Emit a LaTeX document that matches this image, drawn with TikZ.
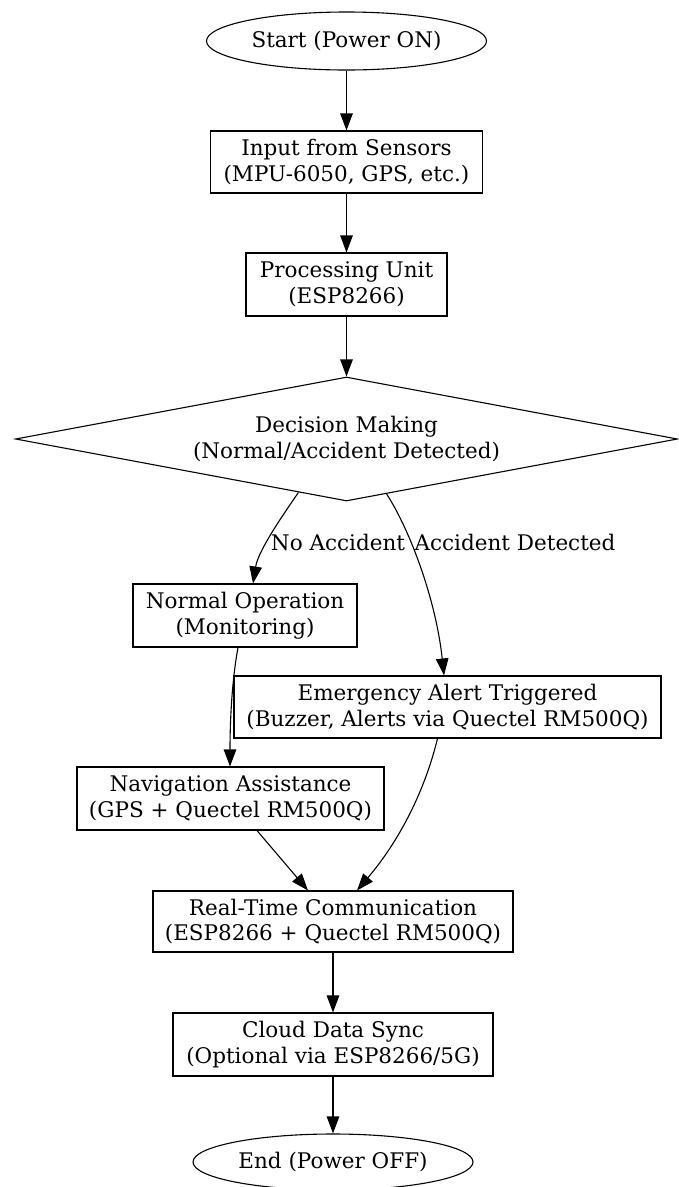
\documentclass[tikz,border=0pt]{standalone}
\usepackage{fontspec}
\setmainfont{DejaVu Serif}
\usetikzlibrary{shapes.geometric,arrows.meta,calc}
\tikzset{
  base/.style={draw=black, line width=1.1pt, inner sep=0pt, align=center, font=\fontsize{21.5}{25.5}\selectfont},
  box/.style={base, rectangle},
  oval/.style={base, ellipse},
  decision/.style={base, diamond, shape aspect=5.3},
  lbl/.style={inner sep=0pt, font=\fontsize{21.5}{25.5}\selectfont},
  arr/.style={draw=black, line width=1.1pt, -{Triangle[length=17pt,width=12.5pt]}}
}
\begin{document}
\begin{tikzpicture}[x=1pt,y=-1pt]
\useasboundingbox (0,0) rectangle (679,1187);
\node[oval, minimum width=280pt, minimum height=58pt] (start) at (346.5,41) {Start (Power ON)};
\node[box, minimum width=272pt, minimum height=62pt] (inp) at (346.5,162) {Input from Sensors\\(MPU-6050, GPS, etc.)};
\node[box, minimum width=201pt, minimum height=63pt] (proc) at (346.5,284.5) {Processing Unit\\(ESP8266)};
\node[decision, minimum width=662pt, minimum height=124pt] (dec) at (346.5,439) {Decision Making\\(Normal/Accident Detected)};
\node[box, minimum width=224pt, minimum height=63pt] (norm) at (245,615.5) {Normal Operation\\(Monitoring)};
\node[box, minimum width=427pt, minimum height=62pt] (emg) at (447.5,707) {Emergency Alert Triggered\\(Buzzer, Alerts via Quectel RM500Q)};
\node[box, minimum width=307pt, minimum height=63pt] (nav) at (230.5,798.5) {Navigation Assistance\\(GPS + Quectel RM500Q)};
\node[box, minimum width=360pt, minimum height=61pt] (rt) at (333,921.5) {Real-Time Communication\\(ESP8266 + Quectel RM500Q)};
\node[box, minimum width=320pt, minimum height=63pt] (cloud) at (333,1044.5) {Cloud Data Sync\\(Optional via ESP8266/5G)};
\node[oval, minimum width=280pt, minimum height=56pt] (end) at (333,1162) {End (Power OFF)};
\node[lbl] (lno) at (338,542) {No Accident};
\node[lbl] (lyes) at (515,542) {Accident Detected};

\draw[arr] (start) -- (inp);
\draw[arr] (inp) -- (proc);
\draw[arr] (proc) -- (dec.north);
\draw[arr] ($(dec.south)!0.145!(dec.west)$) .. controls (278,522) and (258,552) .. ($(norm.north)+(8,0)$);
\draw[arr] ($(dec.south)!0.121!(dec.east)$) .. controls (410,530) and (436,600) .. ($(emg.north)+(-3.5,0)$);
\draw[arr] ($(norm.south)+(-7,0)$) .. controls (232,680) and (230,720) .. ($(nav.north)+(-0.5,0)$);
\draw[arr] ($(emg.south)+(-10,0)$) .. controls (425,790) and (400,840) .. ($(rt.north)+(24,0)$);
\draw[arr] ($(nav.south)+(26.5,0)$) -- ($(rt.north)+(-25,0)$);
\draw[arr] (rt) -- (cloud);
\draw[arr] (cloud) -- (end);
\end{tikzpicture}
\end{document}
